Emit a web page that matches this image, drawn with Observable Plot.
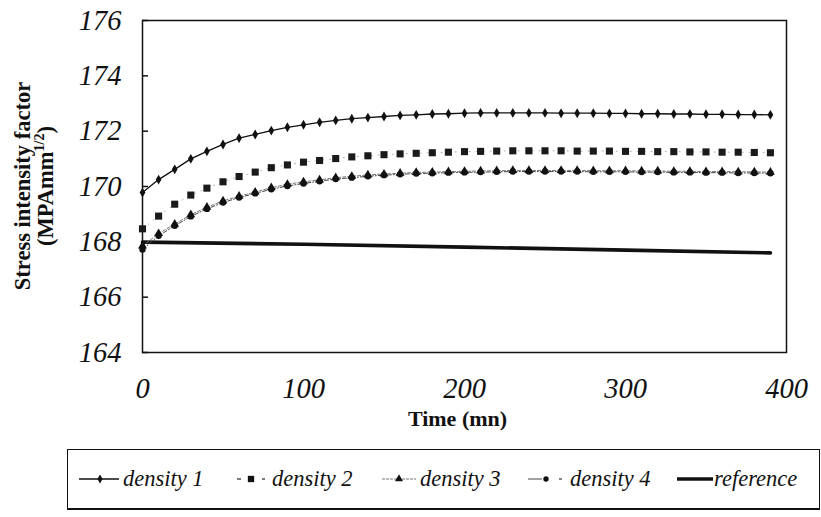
<!DOCTYPE html>
<html>
<head>
<meta charset="utf-8">
<script src="https://cdn.jsdelivr.net/npm/d3@7"></script>
<script src="https://cdn.jsdelivr.net/npm/@observablehq/plot@0.6"></script>
<style>
  body { margin: 0; background: #fff; }
  #wrap { position: relative; width: 821px; height: 517px; font-family: "Liberation Serif", "Times New Roman", serif; background: #fff; }
  #legend { position: absolute; left: 67px; top: 449px; width: 753px; height: 61px; border: 1.5px solid #111; border-bottom-width: 2.5px; box-sizing: border-box; }
  .item { position: absolute; top: 15px; height: 28px; display: flex; align-items: center; font-style: italic; font-size: 22.5px; color: #111; white-space: nowrap; }
  .item svg { display: block; }
</style>
</head>
<body>
<div id="wrap"><div id="chart"></div><div id="legend"></div></div>
<script>
// ---- data ----
const time = [0,10,20,30,40,50,60,70,80,90,100,110,120,130,140,150,160,170,180,190,
              200,210,220,230,240,250,260,270,280,290,300,310,320,330,340,350,360,370,380,390];
const density1 = [169.78,170.25,170.62,171.00,171.27,171.52,171.75,171.88,172.02,172.14,
                  172.23,172.32,172.39,172.45,172.49,172.53,172.57,172.59,172.62,172.63,
                  172.65,172.66,172.66,172.66,172.66,172.66,172.65,172.65,172.65,172.64,
                  172.64,172.63,172.63,172.62,172.62,172.61,172.61,172.60,172.60,172.59];
const density2 = [168.47,168.93,169.36,169.69,169.94,170.17,170.36,170.52,170.68,170.78,
                  170.88,170.94,171.01,171.07,171.11,171.15,171.18,171.20,171.22,171.24,
                  171.26,171.27,171.28,171.29,171.29,171.29,171.29,171.28,171.28,171.28,
                  171.27,171.27,171.26,171.26,171.25,171.25,171.24,171.24,171.23,171.22];
const density3 = [167.85,168.30,168.64,168.98,169.25,169.48,169.65,169.80,169.96,170.08,
                  170.17,170.24,170.32,170.37,170.42,170.45,170.48,170.51,170.52,170.54,
                  170.55,170.56,170.57,170.58,170.58,170.58,170.58,170.58,170.57,170.57,
                  170.57,170.56,170.56,170.55,170.55,170.54,170.54,170.53,170.53,170.52];
const density4 = [167.72,168.22,168.58,168.92,169.19,169.42,169.60,169.75,169.90,170.02,
                  170.11,170.19,170.27,170.32,170.37,170.41,170.44,170.47,170.48,170.50,
                  170.51,170.52,170.53,170.54,170.54,170.54,170.54,170.54,170.53,170.53,
                  170.53,170.52,170.52,170.51,170.51,170.50,170.50,170.49,170.49,170.48];
const refTime = [0,100,200,300,390];
const reference = [167.99,167.91,167.81,167.70,167.60];
const xTicks = [0,100,200,300,400];
const yTicks = [164,166,168,170,172,174,176];
const seriesNames = ["density 1","density 2","density 3","density 4","reference"];
const xTitle = "Time (mn)";
const yTitle1 = "Stress intensity factor";

// ---- tables ----
const rows = (vals, ts) => ts.map((t, i) => ({t, v: vals[i]}));
const d1 = rows(density1, time), d2 = rows(density2, time), d3r = rows(density3, time),
      d4 = rows(density4, time), ref = rows(reference, refTime);

const font = "Liberation Serif, Times New Roman, serif";
const plotW = 821 - 142 - 35;

const chart = Plot.plot({
  width: 821, height: 440,
  marginLeft: 142, marginRight: 35, marginTop: 20, marginBottom: 88,
  style: {fontFamily: font, background: "white", color: "#111", overflow: "visible"},
  x: {domain: [0, 400]},
  y: {domain: [164, 176]},
  marks: [
    Plot.frame({stroke: "#111", strokeWidth: 1.5}),
    Plot.tickY(yTicks, {y: d => d, insetRight: plotW - 6, stroke: "#111", strokeWidth: 1.5}),
    Plot.axisY({ticks: yTicks, tickSize: 0, tickPadding: 21, fontSize: 28.5, fontStyle: "italic", label: null, tickFormat: d => String(d)}),
    Plot.axisX({ticks: xTicks, tickSize: 0, tickPadding: 25, fontSize: 28.5, fontStyle: "italic", label: null, tickFormat: d => String(d)}),
    Plot.text([xTitle], {frameAnchor: "bottom", dx: -7, dy: 73, fontSize: 22, fontWeight: "bold", fill: "#111"}),
    // reference
    Plot.line(ref, {x: "t", y: "v", stroke: "#111", strokeWidth: 3.6}),
    // density 4 (circles)
    Plot.line(d4, {x: "t", y: "v", stroke: "#444", strokeWidth: 1, strokeDasharray: "4,2,1,2"}),
    Plot.dot(d4, {x: "t", y: "v", symbol: "circle", r: 3.2, fill: "#111"}),
    // density 3 (triangles)
    Plot.line(d3r, {x: "t", y: "v", stroke: "#777", strokeWidth: 1, strokeDasharray: "3,2"}),
    Plot.dot(d3r, {x: "t", y: "v", symbol: "triangle", r: 3.3, fill: "#111"}),
    // density 2 (squares)
    Plot.line(d2, {x: "t", y: "v", stroke: "#999", strokeWidth: 0.8, strokeDasharray: "1,6"}),
    Plot.dot(d2, {x: "t", y: "v", symbol: "square", r: 4, fill: "#1a1a1a"}),
    // density 1 (diamonds)
    Plot.line(d1, {x: "t", y: "v", stroke: "#111", strokeWidth: 1.3}),
    Plot.dot(d1, {x: "t", y: "v", symbol: "diamond", r: 3, fill: "#111"})
  ]
});
document.getElementById("chart").appendChild(chart);

// y-axis title (two lines, rotated, with superscript)
const svg = d3.select(chart);
const cy = (20 + 352) / 2;
svg.append("text")
  .attr("transform", `translate(30,${cy}) rotate(-90)`)
  .attr("text-anchor", "middle")
  .attr("font-family", font).attr("font-weight", "bold").attr("font-size", 22.5).attr("fill", "#111")
  .text(yTitle1);
const t2 = svg.append("text")
  .attr("transform", `translate(53,${cy}) rotate(-90)`)
  .attr("text-anchor", "middle")
  .attr("font-family", font).attr("font-weight", "bold").attr("font-size", 22.5).attr("fill", "#111");
t2.append("tspan").text("(MPAmm");
t2.append("tspan").attr("font-size", 14).attr("dy", -9).text("1/2");
t2.append("tspan").attr("dy", 9).text(")");

// ---- legend ----
const legend = d3.select("#legend");
const sw = (w, draw) => {
  const s = d3.create("svg").attr("width", w).attr("height", 16);
  draw(s);
  return s.node();
};
const legendItems = [
  {left: 11, w: 40, draw: s => {
    s.append("line").attr("x1", 0).attr("x2", 40).attr("y1", 8).attr("y2", 8).attr("stroke", "#111").attr("stroke-width", 1.3);
    s.append("path").attr("transform", "translate(21,8)").attr("d", d3.symbol(d3.symbolDiamond, 24)()).attr("fill", "#111");
  }},
  {left: 168, w: 32, draw: s => {
    s.append("line").attr("x1", 1).attr("x2", 5).attr("y1", 8).attr("y2", 8).attr("stroke", "#333").attr("stroke-width", 1.3);
    s.append("path").attr("transform", "translate(15,8)").attr("d", d3.symbol(d3.symbolSquare, 40)()).attr("fill", "#111");
    s.append("line").attr("x1", 26).attr("x2", 29).attr("y1", 8).attr("y2", 8).attr("stroke", "#333").attr("stroke-width", 1.3);
  }},
  {left: 314, w: 34, draw: s => {
    s.append("line").attr("x1", 0).attr("x2", 34).attr("y1", 8).attr("y2", 8).attr("stroke", "#777").attr("stroke-width", 1).attr("stroke-dasharray", "3,1");
    s.append("path").attr("transform", "translate(17,8)").attr("d", d3.symbol(d3.symbolTriangle, 28)()).attr("fill", "#111");
  }},
  {left: 460, w: 38, draw: s => {
    s.append("line").attr("x1", 0).attr("x2", 14).attr("y1", 8).attr("y2", 8).attr("stroke", "#444").attr("stroke-width", 1);
    s.append("circle").attr("cx", 18).attr("cy", 8).attr("r", 2.7).attr("fill", "#111");
    s.append("line").attr("x1", 31).attr("x2", 34).attr("y1", 8).attr("y2", 8).attr("stroke", "#444").attr("stroke-width", 1.3);
  }},
  {left: 609, w: 36, draw: s => {
    s.append("line").attr("x1", 0).attr("x2", 36).attr("y1", 8).attr("y2", 8).attr("stroke", "#111").attr("stroke-width", 3.6);
  }}
];
legendItems.forEach((it, i) => {
  const div = legend.append("div").attr("class", "item").style("left", it.left + "px");
  div.node().appendChild(sw(it.w, it.draw));
  div.append("span").style("margin-left", i === 4 ? "1px" : "4px").text(seriesNames[i]);
});
</script>
</body>
</html>
